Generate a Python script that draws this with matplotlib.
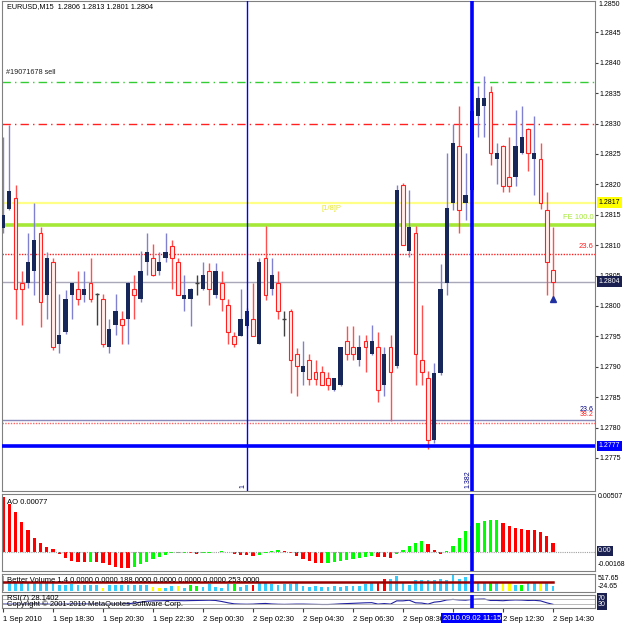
import numpy as np
import matplotlib.pyplot as plt
from matplotlib.transforms import blended_transform_factory

plt.rcParams['font.family'] = ['Liberation Sans', 'DejaVu Sans']

# EURUSD M15, 89 bars from 1 Sep 16:30 to 2 Sep 14:30
opens = [1.28128, 1.28160, 1.28178, 1.28038, 1.28038, 1.28058, 1.28120, 1.28018, 1.28072, 1.27938,
         1.27957, 1.28018, 1.28028, 1.28018, 1.28038, 1.28020, 1.28012, 1.27933, 1.27969, 1.27979,
         1.27979, 1.28028, 1.28012, 1.28072, 1.28079, 1.28058, 1.28079, 1.28099, 1.28072, 1.28012,
         1.28012, 1.28038, 1.28028, 1.28058, 1.28018, 1.28038, 1.28002, 1.27951, 1.27951, 1.27967,
         1.27979, 1.27938, 1.28079, 1.28028, 1.28038, 1.27979, 1.27992, 1.27921, 1.27891, 1.27911,
         1.27891, 1.27891, 1.27882, 1.27862, 1.27870, 1.27942, 1.27933, 1.27911, 1.27942, 1.27921,
         1.27933, 1.27870, 1.27933, 1.27901, 1.28199, 1.28090, 1.28120, 1.27911, 1.27882, 1.27780,
         1.27890, 1.28038, 1.28169, 1.28263, 1.28169, 1.28191, 1.28313, 1.28329, 1.28352, 1.28242,
         1.28263, 1.28212, 1.28212, 1.28252, 1.28291, 1.28242, 1.28242, 1.28158, 1.28060]
highs = [1.28278, 1.28298, 1.28199, 1.28058, 1.28120, 1.28169, 1.28130, 1.28089, 1.28079, 1.28020,
         1.28026, 1.28038, 1.28058, 1.28058, 1.28079, 1.28022, 1.28020, 1.27979, 1.28020, 1.27992,
         1.28040, 1.28051, 1.28090, 1.28120, 1.28102, 1.28089, 1.28120, 1.28109, 1.28079, 1.28051,
         1.28030, 1.28051, 1.28072, 1.28071, 1.28071, 1.28058, 1.28012, 1.27957, 1.28028, 1.27997,
         1.28038, 1.28079, 1.28132, 1.28079, 1.28058, 1.27992, 1.27995, 1.27931, 1.27942, 1.27921,
         1.27911, 1.27901, 1.27891, 1.27882, 1.27933, 1.27967, 1.27967, 1.27952, 1.27952, 1.27969,
         1.27957, 1.27933, 1.27952, 1.28199, 1.28202, 1.28191, 1.28132, 1.28002, 1.27893, 1.27906,
         1.28069, 1.28252, 1.28299, 1.28329, 1.28252, 1.28331, 1.28362, 1.28378, 1.28362, 1.28268,
         1.28265, 1.28278, 1.28322, 1.28329, 1.28293, 1.28313, 1.28268, 1.28188, 1.28130]
lows = [1.28120, 1.28158, 1.27979, 1.27969, 1.28030, 1.28018, 1.27965, 1.27979, 1.27928, 1.27923,
        1.27954, 1.27979, 1.28002, 1.28007, 1.28007, 1.27969, 1.27933, 1.27923, 1.27952, 1.27938,
        1.27938, 1.27979, 1.28007, 1.28051, 1.28049, 1.28051, 1.28072, 1.28028, 1.28018, 1.27992,
        1.27967, 1.28018, 1.28026, 1.28002, 1.28013, 1.27992, 1.27938, 1.27933, 1.27951, 1.27964,
        1.27951, 1.27938, 1.28010, 1.28018, 1.27979, 1.27951, 1.27857, 1.27852, 1.27870, 1.27870,
        1.27870, 1.27870, 1.27862, 1.27860, 1.27868, 1.27911, 1.27911, 1.27901, 1.27891, 1.27920,
        1.27842, 1.27852, 1.27811, 1.27898, 1.28100, 1.28081, 1.27870, 1.27870, 1.27765, 1.27774,
        1.27887, 1.28018, 1.28158, 1.28120, 1.28141, 1.28188, 1.28278, 1.28278, 1.28232, 1.28201,
        1.28188, 1.28188, 1.28197, 1.28250, 1.28222, 1.28183, 1.28160, 1.28018, 1.28010]
closes = [1.28150, 1.28189, 1.28028, 1.28028, 1.28072, 1.28109, 1.28007, 1.28079, 1.27933, 1.27952,
          1.28012, 1.28038, 1.28012, 1.28028, 1.28012, 1.28020, 1.27938, 1.27962, 1.27992, 1.27969,
          1.28038, 1.28018, 1.28058, 1.28089, 1.28051, 1.28072, 1.28089, 1.28079, 1.28018, 1.28018,
          1.28028, 1.28038, 1.28051, 1.28028, 1.28058, 1.28012, 1.27957, 1.27938, 1.27979, 1.27992,
          1.27951, 1.28072, 1.28018, 1.28051, 1.27992, 1.27979, 1.27911, 1.27901, 1.27901, 1.27880,
          1.27880, 1.27870, 1.27870, 1.27882, 1.27933, 1.27921, 1.27921, 1.27933, 1.27933, 1.27942,
          1.27862, 1.27921, 1.27891, 1.28191, 1.28100, 1.28130, 1.27921, 1.27891, 1.27780, 1.27890,
          1.28028, 1.28161, 1.28268, 1.28158, 1.28183, 1.28321, 1.28342, 1.28342, 1.28252, 1.28252,
          1.28197, 1.28197, 1.28263, 1.28278, 1.28252, 1.28252, 1.28169, 1.28072, 1.28040]

ao = [0.00507, 0.00445, 0.00369, 0.00276, 0.00206, 0.00123, 0.00083, 0.00046, 0.00025, -0.00025,
      -0.00061, -0.00086, -0.00092, -0.00098, -0.00092, -0.00098, -0.00101, -0.00123, -0.00138, -0.00147,
      -0.00150, -0.00138, -0.00114, -0.00092, -0.00071, -0.00046, -0.00031, -0.00015, -0.00012, -0.00009,
      -0.00012, -0.00018, -0.00012, -0.00009, -0.00003, 0.00006, -0.00006, -0.00018, -0.00028, -0.00034,
      -0.00037, -0.00031, -0.00012, 0.00003, 0.00012, 0.00006, -0.00009, -0.00040, -0.00071, -0.00089,
      -0.00101, -0.00108, -0.00104, -0.00098, -0.00086, -0.00074, -0.00064, -0.00055, -0.00046, -0.00040,
      -0.00046, -0.00052, -0.00055, -0.00021, 0.00015, 0.00055, 0.00083, 0.00098, 0.00068, 0.00018,
      -0.00025, 0.00003, 0.00052, 0.00132, 0.00194, 0.00236, 0.00270, 0.00289, 0.00292, 0.00295,
      0.00270, 0.00240, 0.00224, 0.00215, 0.00206, 0.00200, 0.00184, 0.00144, 0.00077]

volume = [460, 240, 250, 240, 240, 240, 240, 240, 250, 195,
          195, 205, 195, 195, 195, 180, 110, 195, 180, 180,
          195, 180, 180, 195, 130, 110, 110, 145, 170, 110,
          180, 145, 120, 205, 125, 110, 205, 205, 120, 180,
          180, 290, 250, 205, 180, 205, 205, 240, 155, 130,
          145, 130, 120, 155, 130, 145, 145, 170, 205, 240,
          275, 380, 360, 450, 290, 180, 335, 350, 335, 350,
          360, 350, 510, 360, 430, 360, 265, 240, 240, 240,
          250, 240, 180, 180, 240, 250, 250, 240, 155]
vol_colors = list("cccccccccccccccc"
                  "ycccccccyyccyc"
                  "ggcccccgccrccccc"
                  "cccccccccccccc"
                  "rrcccccccccccccccc"
                  "gcyycgccy")

rsi = [30, 30, 29, 29, 30, 31, 30, 30, 28, 29, 30, 31, 31, 31, 30, 29, 28, 29, 30, 30,
       33, 38, 45, 52, 55, 56, 57, 58, 57, 56, 57, 58, 59, 60, 58, 50, 40, 32, 30, 29,
       30, 33, 35, 31, 29, 28, 29, 30, 30, 29, 28, 27, 27, 29, 32, 34, 36, 38, 40, 41,
       30, 34, 30, 55, 55, 60, 40, 38, 30, 45, 50, 62, 66, 62, 60, 66, 68, 69, 58, 58,
       56, 60, 62, 61, 58, 59, 55, 40, 28]

time_ticks = [0, 8, 16, 24, 32, 40, 48, 56, 64, 72, 80, 88]
time_labels = ["1 Sep 2010", "1 Sep 18:30", "1 Sep 20:30", "1 Sep 22:30", "2 Sep 00:30",
               "2 Sep 02:30", "2 Sep 04:30", "2 Sep 06:30", "2 Sep 08:30", "",
               "2 Sep 12:30", "2 Sep 14:30"]

price_ticks = [1.2775, 1.2780, 1.2785, 1.2790, 1.2795, 1.2800, 1.2805, 1.2810, 1.2815,
               1.2820, 1.2825, 1.2830, 1.2835, 1.2840, 1.2845, 1.2850]

W = H = 625
fig = plt.figure(figsize=(6.25, 6.25), dpi=100)
fig.patch.set_facecolor('white')

FS = 5.5   # general text
FR = 5.0   # right scale text


def panel(top, bottom, left=2, right=595):
    a = fig.add_axes([left / W, 1 - bottom / H, (right - left) / W, (bottom - top) / H])
    a.set_xlim(-0.16, 94.72)
    for s in a.spines.values():
        s.set_color('#808080')
        s.set_linewidth(0.8)
    a.tick_params(labelsize=FR, length=2, color='#404040', pad=1.5)
    return a


def rlabel(ypx, s, fg='black', bg=None):
    kw = {}
    if bg:
        kw['bbox'] = dict(boxstyle='square,pad=0.2', fc=bg, ec='none')
    fig.text(598 / W, 1 - ypx / H, s, fontsize=FR, va='center', ha='left', color=fg, **kw)


x = np.arange(len(opens))
o = np.array(opens); c = np.array(closes); hi = np.array(highs); lo = np.array(lows)

# ---------------- main chart ----------------
ax = panel(1, 491)
ymax = 1.2850164
ax.set_ylim(ymax - 490 / 60800, ymax)
ax.yaxis.tick_right()
ax.set_yticks(price_ticks[:-1])
ax.set_yticklabels(["%.4f" % p for p in price_ticks[:-1]])
ax.set_xticks([])
rlabel(4.5, "1.2850")

# horizontal objects
ax.axhline(1.28368, color='#33cc33', lw=1, ls=(0, (6, 3, 1, 3)), zorder=1)
ax.axhline(1.2830, color='#ff2020', lw=1, ls=(0, (6, 3, 1, 3)), zorder=1)
ax.axhline(1.2817, color='#ffff88', lw=1.6, zorder=1)
ax.axhline(1.28133, color='#a6e838', lw=2.6, zorder=1)
ax.axhline(1.28086, color='#ff2020', lw=1, ls=(0, (1, 1)), zorder=1)
ax.axhline(1.2804, color='#a8a8b8', lw=1, zorder=1)
ax.axhline(1.27812, color='#8888bb', lw=1, zorder=1)
ax.axhline(1.27808, color='#ff6060', lw=1, ls=(0, (1, 1)), zorder=1)
ax.axhline(1.2777, color='#0000ff', lw=2.6, zorder=4)

ax.axvline(39, color='#0000ff', lw=1, zorder=4)
ax.axvline(75, color='#0000ff', lw=2.6, zorder=4)

up = c > o
dn = c < o
eq = c == o
ax.vlines(x[up], lo[up], hi[up], color='#8080d0', lw=1, zorder=2)
ax.vlines(x[dn], lo[dn], hi[dn], color='#ff5050', lw=1, zorder=2)
ax.vlines(x[eq], lo[eq], hi[eq], color='#404040', lw=1, zorder=2)
ax.bar(x[up], (c - o)[up], bottom=o[up], width=0.7, color='#17275a', lw=0, zorder=3)
ax.bar(x[dn], (o - c)[dn], bottom=c[dn], width=0.62, facecolor='#fff0ee',
       edgecolor='#ff2020', lw=0.8, zorder=3)
ax.hlines(o[eq], x[eq] - 0.35, x[eq] + 0.35, color='#404040', lw=1, zorder=3)
ax.plot(88, 1.28012, marker='^', ms=4, color='#2030a0', zorder=5)

ax.text(0.008, 0.995, "EURUSD,M15  1.2806 1.2813 1.2801 1.2804", transform=ax.transAxes,
        fontsize=5.2, va='top', ha='left')
ax.text(0.5, 1.28378, "#19071678 sell", fontsize=5.2, va='bottom', ha='left', color='#202020')
ax.text(51, 1.2816, "[1/8]P", fontsize=FS, va='center', ha='left', color='#e8e830')
ax.text(94.5, 1.28140, "FE 100.0", fontsize=FS, va='bottom', ha='right', color='#a6e838')
ax.text(94.5, 1.28092, "23.6", fontsize=FS, va='bottom', ha='right', color='#ff2020')
ax.text(94.5, 1.27824, "23.6", fontsize=FR, va='bottom', ha='right', color='#000080')
ax.text(94.5, 1.27815, "38.2", fontsize=FR, va='bottom', ha='right', color='#ff2020')
ax.text(38.4, 1.2770, "1", fontsize=FR, rotation=90, va='bottom', ha='center', color='#000080')
ax.text(74.4, 1.2770, "1.382", fontsize=FR, rotation=90, va='bottom', ha='center', color='#000080')

tr = blended_transform_factory(ax.transAxes, ax.transData)
for p, txt, bg, fg in [(1.2817, "1.2817", '#ffff00', 'black'),
                       (1.2804, "1.2804", '#1a2050', 'white'),
                       (1.2777, "1.2777", '#0000ff', 'white')]:
    ax.text(1.006, p, txt, transform=tr, fontsize=FR, va='center', ha='left', color=fg,
            bbox=dict(boxstyle='square,pad=0.25', fc=bg, ec='none'), zorder=6)

# ---------------- AO ----------------
ax2 = panel(494, 571)
ax2.set_ylim(-0.00178, 0.00535)
ao_arr = np.array(ao)
ao_col = ['#ff0000'] + ['#00ff00' if ao_arr[i] > ao_arr[i - 1] else '#ff0000'
                        for i in range(1, len(ao_arr))]
ax2.bar(x, ao_arr, width=0.55, color=ao_col, lw=0)
ax2.axhline(0, color='#a0a0a0', lw=0.8, ls=(0, (1, 1)))
ax2.axvline(75, color='#0000ff', lw=2.6, zorder=4)
ax2.set_xticks([])
ax2.set_yticks([])
ax2.text(0.008, 0.93, "AO 0.00077", transform=ax2.transAxes, fontsize=FS, va='top')
rlabel(497, "0.00507")
rlabel(551, "0.00", fg='white', bg='#1a2050')
rlabel(565, "-0.00168")

# ---------------- Better Volume ----------------
ax3 = panel(574, 592)
ax3.set_ylim(-24.65, 517.65)
cmap = {'c': '#33ccff', 'y': '#ffff00', 'g': '#00ff00', 'r': '#ff0000'}
ax3.bar(x, volume, width=0.45, color=[cmap[k] for k in vol_colors], lw=0)
ax3.axhline(270, xmax=0.93, color='#990000', lw=1.8)
ax3.axvline(75, color='#0000ff', lw=2.6, zorder=4)
ax3.set_xticks([])
ax3.set_yticks([])
ax3.text(0.008, 0.62, "Better Volume 1.4 0.0000 0.0000 188.0000 0.0000 0.0000 0.0000 253.0000",
         transform=ax3.transAxes, fontsize=FS, va='center')
rlabel(579, "517.65")
rlabel(587, "-24.65")

# ---------------- RSI ----------------
ax4 = panel(595, 608)
ax4.set_ylim(0, 100)
ax4.plot(x, rsi, color='#2020a0', lw=0.8)
ax4.axhline(70, color='#b0b0b0', lw=0.6)
ax4.axhline(30, color='#b0b0b0', lw=0.6)
ax4.axvline(75, color='#0000ff', lw=2.6, zorder=4)
ax4.set_yticks([])
ax4.text(0.008, 0.75, "RSI(7) 28.1402", transform=ax4.transAxes, fontsize=FS, va='center')
ax4.text(0.008, 0.3, "Copyright \u00a9 2001-2010 MetaQuotes Software Corp.",
         transform=ax4.transAxes, fontsize=FS, va='center')
rlabel(598, "70", fg='white', bg='#1a2050')
rlabel(605, "30", fg='white', bg='#1a2050')
ax4.set_xticks(time_ticks)
ax4.set_xticklabels(time_labels)
for lab in ax4.get_xticklabels():
    lab.set_ha('left')
ax4.tick_params(axis='x', length=3, pad=3, labelsize=FS)
ax4.text(75, -50, "2010.09.02 11:15", fontsize=FS, va='top', ha='center', color='white',
         bbox=dict(boxstyle='square,pad=0.2', fc='#0000ff', ec='none'), zorder=6,
         clip_on=False)

fig.savefig("out.png", dpi=100, facecolor='white')
